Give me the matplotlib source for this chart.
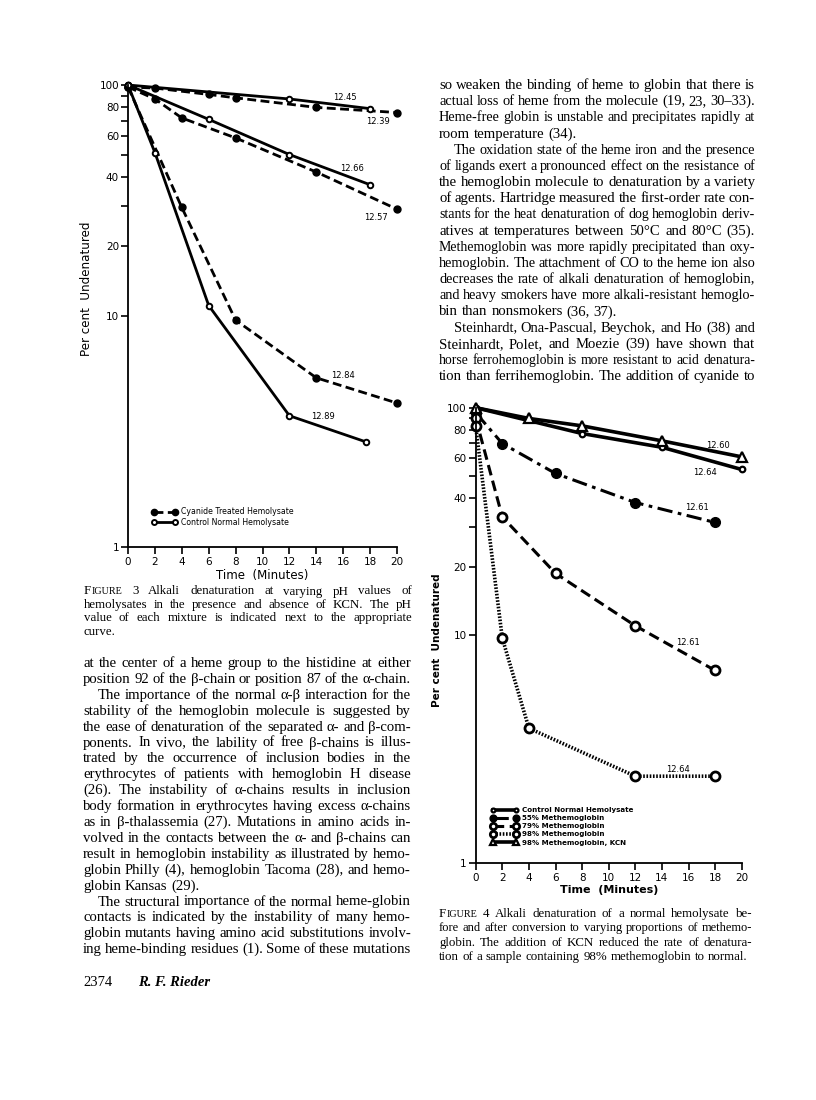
import matplotlib

matplotlib.use("Agg")
import matplotlib.pyplot as plt
from matplotlib.ticker import FixedLocator, NullFormatter, FixedFormatter

W, H = 816, 1100
SERIF = "Liberation Serif"
SANS = "DejaVu Sans"

# ── Figure 3 data (time in minutes, per cent undenatured) ──
cn1239_t = [0, 2, 6, 8, 14, 20]
cn1239_y = [98, 97, 91, 88, 80, 76]
ctl1245_t = [0, 12, 18]
ctl1245_y = [100, 87, 79]
cn1257_t = [0, 2, 4, 8, 14, 20]
cn1257_y = [98, 87, 72, 59, 42, 29]
ctl1266_t = [0, 6, 12, 18]
ctl1266_y = [100, 71, 50, 37]
cn1284_t = [0, 4, 8, 14, 20]
cn1284_y = [98, 29.5, 9.6, 5.4, 4.2]
ctl1289_t = [0, 2, 6, 12, 17.7]
ctl1289_y = [100, 51, 11.1, 3.7, 2.85]
f3_labels = ["12.45", "12.39", "12.66", "12.57", "12.84", "12.89"]
f3_label_pos = [(16.1, 88.6), (18.6, 69.2), (16.65, 43.3), (18.4, 26.8), (16.0, 5.55), (14.5, 3.66)]

# ── Figure 4 data ──
ctl_t = [0, 8, 14, 20]
ctl_y = [100, 77, 67, 53.5]
m55_t = [0, 2, 6, 12, 18]
m55_y = [95, 69.6, 51.4, 38.3, 31.3]
m79_t = [0, 2, 6, 12, 18]
m79_y = [90, 33.1, 18.7, 11.0, 7.0]
m98_t = [0, 2, 4, 12, 18]
m98_y = [83, 9.7, 3.9, 2.4, 2.4]
kcn_t = [0, 4, 8, 14, 20]
kcn_y = [100, 89.7, 83.2, 71.5, 60.8]
f4_labels = ["12.60", "12.64", "12.61", "12.61", "12.64"]
f4_label_pos = [(18.2, 68.4), (17.25, 52.1), (16.65, 36.5), (15.98, 9.3), (15.2, 2.58)]

x_ticks = list(range(0, 21, 2))
y_major = [1, 10, 20, 40, 60, 80, 100]
y_minor = [30, 50, 70, 90]

# ── page text ──
right_lines = [
    "so weaken the binding of heme to globin that there is",
    "actual loss of heme from the molecule (19, 23, 30–33).",
    "Heme-free globin is unstable and precipitates rapidly at",
    "room temperature (34).",
    "The oxidation state of the heme iron and the presence",
    "of ligands exert a pronounced effect on the resistance of",
    "the hemoglobin molecule to denaturation by a variety",
    "of agents. Hartridge measured the first-order rate con-",
    "stants for the heat denaturation of dog hemoglobin deriv-",
    "atives at temperatures between 50°C and 80°C (35).",
    "Methemoglobin was more rapidly precipitated than oxy-",
    "hemoglobin. The attachment of CO to the heme ion also",
    "decreases the rate of alkali denaturation of hemoglobin,",
    "and heavy smokers have more alkali-resistant hemoglo-",
    "bin than nonsmokers (36, 37).",
    "Steinhardt, Ona-Pascual, Beychok, and Ho (38) and",
    "Steinhardt, Polet, and Moezie (39) have shown that",
    "horse ferrohemoglobin is more resistant to acid denatura-",
    "tion than ferrihemoglobin. The addition of cyanide to",
]
right_indent = [4, 15]
right_ragged = [3, 14]

left_lines = [
    "at the center of a heme group to the histidine at either",
    "position 92 of the β-chain or position 87 of the α-chain.",
    "The importance of the normal α-β interaction for the",
    "stability of the hemoglobin molecule is suggested by",
    "the ease of denaturation of the separated α- and β-com-",
    "ponents. In vivo, the lability of free β-chains is illus-",
    "trated by the occurrence of inclusion bodies in the",
    "erythrocytes of patients with hemoglobin H disease",
    "(26). The instability of α-chains results in inclusion",
    "body formation in erythrocytes having excess α-chains",
    "as in β-thalassemia (27). Mutations in amino acids in-",
    "volved in the contacts between the α- and β-chains can",
    "result in hemoglobin instability as illustrated by hemo-",
    "globin Philly (4), hemoglobin Tacoma (28), and hemo-",
    "globin Kansas (29).",
    "The structural importance of the normal heme-globin",
    "contacts is indicated by the instability of many hemo-",
    "globin mutants having amino acid substitutions involv-",
    "ing heme-binding residues (1). Some of these mutations",
]
left_indent = [2, 15]
left_ragged = [14]

cap3_lines = [
    "FIGURE 3 Alkali denaturation at varying pH values of",
    "hemolysates in the presence and absence of KCN. The pH",
    "value of each mixture is indicated next to the appropriate",
    "curve.",
]
cap4_lines = [
    "FIGURE 4 Alkali denaturation of a normal hemolysate be-",
    "fore and after conversion to varying proportions of methemo-",
    "globin. The addition of KCN reduced the rate of denatura-",
    "tion of a sample containing 98% methemoglobin to normal.",
]


def fx(px):
    return px / W


def fy(py):
    return 1 - py / H


def measure(fig, line, size):
    r = fig.canvas.get_renderer()
    items = []
    for w in line.split():
        if w == "FIGURE":
            segs = [("F", size), ("IGURE", size * 0.78)]
        else:
            segs = [(w, size)]
        arts = [fig.text(0, 0, s, fontsize=sz, family=SERIF, va="baseline") for s, sz in segs]
        items.append((arts, [a.get_window_extent(r).width for a in arts]))
    return items


def draw_words(fig, line, x0, x1, py, size, justify=True, min_gap=3.2):
    """Place one line of text word by word, spread to fill x0..x1."""
    while True:
        items = measure(fig, line, size)
        total = sum(sum(ws) for _, ws in items)
        n = len(items)
        gap = (x1 - x0 - total) / (n - 1) if n > 1 else 0
        if not justify or n < 2 or gap >= min_gap or size < 7:
            break
        for arts, _ in items:
            for a in arts:
                a.remove()
        size -= 0.15
    if not justify or n < 2:
        gap = size * 0.27 * 100 / 72
    x = x0
    for arts, ws in items:
        for a, w in zip(arts, ws):
            a.set_position((fx(x), fy(py)))
            x += w
        x += gap


def draw_block(fig, lines, x0, x1, py0, step, size, indent=(), ragged=(), ind=15):
    for i, line in enumerate(lines):
        xs = x0 + (ind if i in indent else 0)
        draw_words(fig, line, xs, x1, py0 + i * step, size, justify=i not in ragged)


def style_axes(ax, bold=False):
    ax.set_yscale("log")
    ax.set_xlim(0, 20)
    ax.set_ylim(1, 100)
    for s in ("top", "right"):
        ax.spines[s].set_visible(False)
    for s in ("left", "bottom"):
        ax.spines[s].set_linewidth(1.3)
    ax.xaxis.set_major_locator(FixedLocator(x_ticks))
    ax.yaxis.set_major_locator(FixedLocator(y_major))
    ax.yaxis.set_major_formatter(FixedFormatter([str(v) for v in y_major]))
    ax.yaxis.set_minor_locator(FixedLocator(y_minor))
    ax.yaxis.set_minor_formatter(NullFormatter())
    ax.tick_params(axis="both", which="both", direction="out", length=5, width=1.2, labelsize=7.5, pad=1.5)
    ax.tick_params(axis="x", pad=2.5)
    ax.patch.set_alpha(0)
    for lab in ax.get_xticklabels() + ax.get_yticklabels():
        lab.set_family(SANS)
        if bold:
            lab.set_fontweight("bold")


fig = plt.figure(figsize=(W / 100, H / 100), dpi=100)

# ── Figure 3 ──
ax3 = fig.add_axes([fx(128), fy(547), (397 - 128) / W, (547 - 85) / H])
dash3 = (0, (3.2, 1.6))
cn_kw = dict(color="black", lw=2.0, linestyle=dash3, marker="o", ms=5, mfc="black", mec="black", clip_on=False)
ctl_kw = dict(color="black", lw=2.0, linestyle="-", marker="o", ms=4, mfc="white", mec="black", mew=1.4, clip_on=False)
h_cn = ax3.plot(cn1239_t, cn1239_y, **cn_kw)[0]
h_ctl = ax3.plot(ctl1245_t, ctl1245_y, **ctl_kw)[0]
ax3.plot(cn1257_t, cn1257_y, **cn_kw)
ax3.plot(ctl1266_t, ctl1266_y, **ctl_kw)
ax3.plot(cn1284_t, cn1284_y, **cn_kw)
ax3.plot(ctl1289_t, ctl1289_y, **ctl_kw)
for lab, (tx, ty) in zip(f3_labels, f3_label_pos):
    ax3.text(tx, ty, lab, fontsize=6, family=SANS, ha="center", va="center")
style_axes(ax3)
ax3.set_xlabel("Time  (Minutes)", fontsize=8.5, family=SANS, labelpad=1)
ax3.set_ylabel("Per cent  Undenatured", fontsize=8.6, family=SANS)
ax3.yaxis.set_label_coords(-0.13, 0.56)
ax3.legend(
    [h_cn, h_ctl],
    ["Cyanide Treated Hemolysate", "Control Normal Hemolysate"],
    loc="lower left", bbox_to_anchor=(0.075, 0.035), frameon=False, numpoints=2, markerscale=0.9,
    handlelength=3.2, handletextpad=0.5, labelspacing=0.2, borderpad=0, prop={"family": SANS, "size": 5.6},
)

# ── Figure 4 ──
ax4 = fig.add_axes([fx(475.7), fy(862.7), (741.7 - 475.7) / W, (862.7 - 407.7) / H])
base = dict(color="black", clip_on=False)
h1 = ax4.plot(ctl_t, ctl_y, lw=2.6, linestyle="-", marker="o", ms=4, mfc="white", mec="black", mew=1.6, **base)[0]
h2 = ax4.plot(m55_t, m55_y, lw=2.2, linestyle=(0, (5, 1.8, 1.2, 1.8)), marker="o", ms=7, mfc="black", mec="black", **base)[0]
h3 = ax4.plot(m79_t, m79_y, lw=2.2, linestyle=(0, (3.5, 1.8)), marker="o", ms=6.5, mfc="white", mec="black", mew=2.0, **base)[0]
h4 = ax4.plot(m98_t, m98_y, lw=2.6, linestyle=(0, (0.45, 0.45)), marker="o", ms=6.5, mfc="white", mec="black", mew=2.0, **base)[0]
h5 = ax4.plot(kcn_t, kcn_y, lw=2.6, linestyle="-", marker="^", ms=7, mfc="white", mec="black", mew=1.6, **base)[0]
for lab, (tx, ty) in zip(f4_labels, f4_label_pos):
    ax4.text(tx, ty, lab, fontsize=6, family=SANS, ha="center", va="center")
style_axes(ax4)
ax4.set_xlabel("Time  (Minutes)", fontsize=8, family=SANS, fontweight="bold", labelpad=1)
ax4.set_ylabel("Per cent  Undenatured", fontsize=7.5, family=SANS, fontweight="bold")
ax4.yaxis.set_label_coords(-0.125, 0.49)
ax4.legend(
    [h1, h2, h3, h4, h5],
    ["Control Normal Hemolysate", "55% Methemoglobin", "79% Methemoglobin", "98% Methemoglobin",
     "98% Methemoglobin, KCN"],
    loc="lower left", bbox_to_anchor=(0.045, 0.03), frameon=False, numpoints=2, markerscale=0.7,
    handlelength=3.8, handletextpad=0.5, labelspacing=0.3, borderpad=0,
    prop={"family": SANS, "size": 5.1, "weight": "bold"},
)

# ── text on the page ──
body = 10.6
draw_block(fig, right_lines, 439, 755, 89, 16.17, body, right_indent, right_ragged)
draw_block(fig, left_lines, 83, 411, 667, 15.9, body, left_indent, left_ragged)
draw_block(fig, cap3_lines, 84, 412, 594.5, 13.4, 9.3, ragged=[3])
draw_block(fig, cap4_lines, 439, 752, 917, 14.3, 9.3, ragged=[3])
fig.text(fx(83), fy(986), "2374", fontsize=10.5, family=SERIF, va="baseline")
fig.text(fx(138), fy(986), "R. F. Rieder", fontsize=10.5, family=SERIF, style="italic",
         fontweight="bold", va="baseline")

fig.savefig("out.png", dpi=100)
